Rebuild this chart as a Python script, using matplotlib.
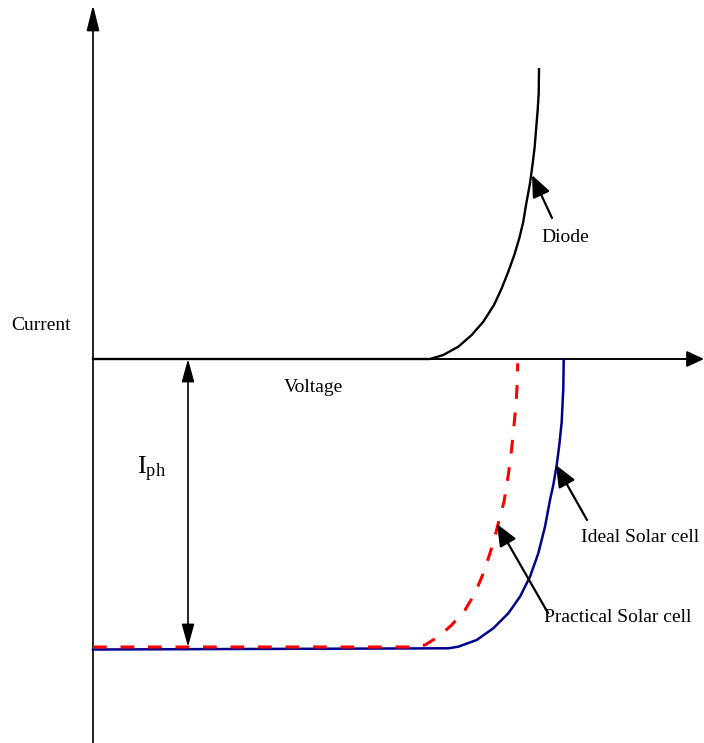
import matplotlib.pyplot as plt

plt.rcParams['font.family'] = ['Liberation Serif', 'DejaVu Serif']
plt.rcParams['mathtext.fontset'] = 'custom'
plt.rcParams['mathtext.rm'] = 'Liberation Serif'

# schematic I-V curves (voltage, current) in arbitrary units, origin at axes crossing
diode_v = [0, 337, 350.3, 365.3, 378.7, 390.3, 401, 408.7, 415.3, 421.3, 426.3, 430.3, 433,
           437, 439.7, 441.7, 443.3, 444.7, 445.7, 446]
diode_i = [0, 0, 4, 12.3, 24, 37.3, 54, 70.7, 87.3, 104, 120.7, 137.3, 154,
           175.7, 195.7, 212.3, 232.3, 249, 265.7, 289.7]

ideal_v = [0, 355.3, 365.3, 383.7, 400.3, 415.3, 427, 437, 445.3, 452, 457, 460.3, 463.7,
           466.3, 468.7, 470.3, 470.7]
ideal_i = [-290.5, -289.3, -287.7, -281, -269.3, -254.3, -237.7, -217.7, -194.3, -167.7,
           -141, -126, -106, -86, -62.7, -29.3, -1]

pract_v = [0, 318.7, 332, 345.3, 358.7, 372, 382, 390.3, 397, 402.7, 407, 411, 415.3,
           418.7, 421, 423, 424.3, 424.7]
pract_i = [-288, -288, -286, -277.7, -266, -251, -234.3, -214.3, -194.3, -174.3, -157.7,
           -142.7, -116, -89.3, -66, -46, -22.7, -4.3]

iph = -288

fig = plt.figure(figsize=(7.04, 7.43), dpi=100)
ax = fig.add_axes([0, 0, 1, 1])
ax.set_xlim(-93, 611)
ax.set_ylim(-384, 359)
ax.axis('off')

# axes with arrows
ax.plot([0, 0], [-384, 340], color='#222222', lw=1.4)
ax.annotate('', xy=(0, 354), xytext=(0, 330),
            arrowprops=dict(arrowstyle='-|>,head_length=2.2,head_width=0.55',
                            mutation_scale=7, lw=1.4, color='black',
                            shrinkA=0, shrinkB=0))
ax.plot([0, 600], [0, 0], color='black', lw=1.4)
ax.annotate('', xy=(611, 0), xytext=(590, 0),
            arrowprops=dict(arrowstyle='-|>,head_length=1.5,head_width=0.7',
                            mutation_scale=7, lw=1.4, color='black',
                            shrinkA=0, shrinkB=0))

# curves
ax.plot(diode_v, diode_i, color='black', lw=1.7, solid_joinstyle='round')
ax.plot(ideal_v, ideal_i, color='#00008f', lw=1.8, solid_joinstyle='round')
ax.plot(pract_v, pract_i, color='#ff0000', lw=2.2, dashes=(4.5, 4.5))

# photocurrent arrow
ax.annotate('', xy=(95, 0), xytext=(95, iph),
            arrowprops=dict(arrowstyle='<|-|>,head_length=2.0,head_width=0.55',
                            mutation_scale=7, lw=1.2, color='black',
                            shrinkA=0, shrinkB=0))

arrow_kw = dict(arrowstyle='-|>,head_length=1.9,head_width=0.8',
                mutation_scale=7, lw=1.6, color='black', shrinkA=0, shrinkB=0)
ax.annotate('', xy=(439, 184), xytext=(459, 141), arrowprops=arrow_kw)
ax.annotate('', xy=(463, -106), xytext=(494, -161), arrowprops=arrow_kw)
ax.annotate('', xy=(404, -165), xytext=(455, -254), arrowprops=arrow_kw)

fs = 14
ax.text(-52, 34, 'Current', fontsize=fs, ha='center', va='center')
ax.text(220, -28, 'Voltage', fontsize=fs, ha='center', va='center')
ax.text(59, -110, r'$\mathrm{I_{ph}}$', fontsize=fs + 5, ha='center', va='center')
ax.text(472, 122, 'Diode', fontsize=fs, ha='center', va='center')
ax.text(547, -178, 'Ideal Solar cell', fontsize=fs, ha='center', va='center')
ax.text(525, -258, 'Practical Solar cell', fontsize=fs, ha='center', va='center')

fig.savefig('out.png', dpi=100)
